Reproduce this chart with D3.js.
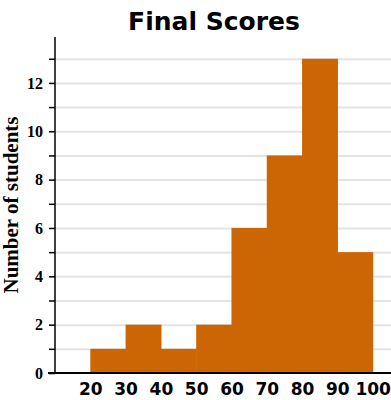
<!DOCTYPE html>
<html>
<head>
<meta charset="utf-8">
<script src="https://cdn.jsdelivr.net/npm/d3@7"></script>
<style>
  body { margin: 0; background: #fff; }
  .grid line { stroke: #e4e4e4; stroke-width: 2; }
  .grid .domain { display: none; }
</style>
</head>
<body>
<svg id="chart" width="391" height="400"></svg>
<script>
// bins (lower edge) and counts
var binStarts = [20, 30, 40, 50, 60, 70, 80, 90];
var counts = [1, 2, 1, 2, 6, 9, 13, 5];
var binWidth = 10;
var xTicks = [20, 30, 40, 50, 60, 70, 80, 90, 100];
var yAllTicks = [0, 1, 2, 3, 4, 5, 6, 7, 8, 9, 10, 11, 12, 13];

var margin = {top: 37, right: 0, bottom: 27, left: 55},
    width = 391 - margin.left - margin.right,
    height = 400 - margin.top - margin.bottom;

var svg = d3.select("#chart");
var g = svg.append("g")
    .attr("transform", "translate(" + margin.left + "," + margin.top + ")");

var x = d3.scaleLinear().domain([10, 105.2]).range([0, width]);
var y = d3.scaleLinear().domain([0, 13.9]).range([height, 0]);

// gridlines
g.append("g")
    .attr("class", "grid")
    .call(d3.axisLeft(y).tickValues(yAllTicks.slice(1)).tickSize(-width).tickFormat(""));

// bars
g.selectAll("rect.bar")
    .data(binStarts)
    .enter().append("rect")
    .attr("class", "bar")
    .attr("x", function(d) { return x(d); })
    .attr("width", function(d) { return x(d + binWidth) - x(d) + 0.6; })
    .attr("y", function(d, i) { return y(counts[i]); })
    .attr("height", function(d, i) { return height - y(counts[i]); })
    .attr("fill", "#cc6604");

// y axis: minor ticks at odd values, labels at even
var yAxis = g.append("g")
    .call(d3.axisLeft(y).tickValues(yAllTicks).tickSize(6).tickFormat(function(d) {
        return d % 2 === 0 ? d : "";
    }));
yAxis.select(".domain").attr("d", "M0," + height + "V0").attr("stroke", "#000").attr("stroke-width", 1.5);
yAxis.selectAll(".tick line").attr("stroke", "#000").attr("stroke-width", 1.5);
yAxis.selectAll(".tick text")
    .attr("x", -12)
    .style("font-family", "'Liberation Serif', serif")
    .style("font-weight", "bold")
    .style("font-size", "16px")
    .attr("fill", "#000");

// x axis
var xAxis = g.append("g")
    .attr("transform", "translate(0," + height + ")")
    .call(d3.axisBottom(x).tickValues(xTicks).tickSize(0).tickPadding(10));
xAxis.select(".domain").attr("d", "M-7,0H" + width).attr("stroke", "#000").attr("stroke-width", 2);
xAxis.selectAll(".tick text")
    .style("font-family", "'DejaVu Sans', sans-serif")
    .style("font-size", "17px")
    .style("font-weight", "bold")
    .attr("fill", "#000");

// title
svg.append("text")
    .attr("x", 214)
    .attr("y", 30)
    .attr("text-anchor", "middle")
    .style("font-family", "'DejaVu Sans', sans-serif")
    .style("font-weight", "bold")
    .style("font-size", "25px")
    .text("Final Scores");

// y label
svg.append("text")
    .attr("transform", "translate(18," + (margin.top + height / 2) + ") rotate(-90)")
    .attr("text-anchor", "middle")
    .style("font-family", "'Liberation Serif', serif")
    .style("font-weight", "bold")
    .style("font-size", "21px")
    .text("Number of students");
</script>
</body>
</html>
